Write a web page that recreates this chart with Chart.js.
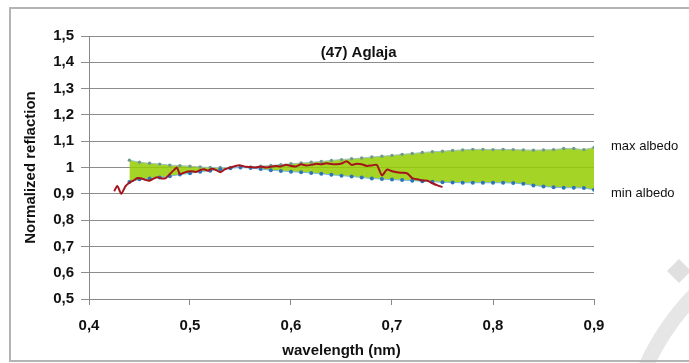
<!DOCTYPE html>
<html>
<head>
<meta charset="utf-8">
<script src="https://cdn.jsdelivr.net/npm/chart.js@4.4.1/dist/chart.umd.min.js"></script>
<style>
  html, body { margin: 0; padding: 0; background: #fff; }
  #wrap { position: relative; width: 689px; height: 363px; }
</style>
</head>
<body>
<div id="wrap"><canvas id="chart" width="689" height="363"></canvas></div>
<script>
/* === Aglaja reflectance chart === */

// albedo envelope, sampled every 0.01 nm from 0.44 to 0.90
var envWavelength = [
  0.44, 0.45, 0.46, 0.47, 0.48, 0.49, 0.50, 0.51, 0.52, 0.53,
  0.54, 0.55, 0.56, 0.57, 0.58, 0.59, 0.60, 0.61, 0.62, 0.63,
  0.64, 0.65, 0.66, 0.67, 0.68, 0.69, 0.70, 0.71, 0.72, 0.73,
  0.74, 0.75, 0.76, 0.77, 0.78, 0.79, 0.80, 0.81, 0.82, 0.83,
  0.84, 0.85, 0.86, 0.87, 0.88, 0.89, 0.90
];
var maxAlbedo = [
  1.028, 1.020, 1.016, 1.013, 1.009, 1.007, 1.005, 1.002, 1.000, 1.000,
  1.000, 1.000, 1.002, 1.005, 1.008, 1.011, 1.014, 1.017, 1.020, 1.023,
  1.027, 1.030, 1.033, 1.036, 1.040, 1.043, 1.046, 1.050, 1.053, 1.057,
  1.060, 1.062, 1.065, 1.067, 1.069, 1.069, 1.068, 1.069, 1.068, 1.067,
  1.066, 1.067, 1.068, 1.072, 1.072, 1.068, 1.076
];
var minAlbedo = [
  0.945, 0.955, 0.958, 0.962, 0.967, 0.973, 0.978, 0.984, 0.988, 0.993,
  0.997, 1.000, 0.998, 0.994, 0.990, 0.987, 0.984, 0.982, 0.979, 0.976,
  0.972, 0.969, 0.966, 0.962, 0.958, 0.956, 0.954, 0.952, 0.950, 0.948,
  0.946, 0.944, 0.943, 0.942, 0.942, 0.942, 0.942, 0.942, 0.941, 0.938,
  0.932, 0.928, 0.925, 0.923, 0.923, 0.922, 0.915
];

// measured spectrum of (47) Aglaja
var specWavelength = [
  0.425, 0.428, 0.432, 0.436, 0.440, 0.444, 0.448, 0.452, 0.456, 0.460,
  0.464, 0.468, 0.472, 0.476, 0.480, 0.484, 0.487, 0.490, 0.494, 0.498,
  0.502, 0.506, 0.510, 0.514, 0.518, 0.522, 0.526, 0.530, 0.534, 0.540,
  0.545, 0.550, 0.555, 0.560, 0.565, 0.570, 0.575, 0.580, 0.585, 0.590,
  0.595, 0.600, 0.605, 0.610, 0.615, 0.620, 0.625, 0.630, 0.635, 0.640,
  0.645, 0.650, 0.655, 0.660, 0.665, 0.670, 0.675, 0.680, 0.685, 0.690,
  0.695, 0.700, 0.705, 0.710, 0.715, 0.720, 0.725, 0.730, 0.735, 0.740,
  0.745, 0.750
];
var specReflect = [
  0.910, 0.930, 0.900, 0.928, 0.942, 0.950, 0.960, 0.958, 0.953, 0.950,
  0.958, 0.963, 0.958, 0.960, 0.975, 0.990, 1.000, 0.975, 0.980, 0.985,
  0.986, 0.983, 0.990, 0.993, 0.988, 0.995, 0.990, 0.982, 0.992, 1.000,
  1.006, 1.008, 1.003, 1.002, 1.000, 1.004, 1.000, 1.003, 1.006, 1.004,
  1.010, 1.006, 1.004, 1.012, 1.008, 1.010, 1.014, 1.012, 1.016, 1.013,
  1.012, 1.015, 1.024, 1.010, 1.014, 1.012, 1.006, 1.008, 1.010, 0.970,
  0.992, 0.986, 0.982, 0.980, 0.978, 0.960, 0.955, 0.951, 0.950, 0.940,
  0.932, 0.926
];

var xTicks = [0.4, 0.5, 0.6, 0.7, 0.8, 0.9];
var chartTitle = '(47) Aglaja';
var seriesLabels = ['max albedo', 'min albedo'];

var fontMain = "'Liberation Sans', Arial, sans-serif";

function toPoints(xs, ys) {
  return xs.map(function (x, i) { return { x: x, y: ys[i] }; });
}

function commaNum(v) {
  var r = Math.round(v * 10) / 10;
  if (r === Math.round(r)) return String(r);
  return r.toFixed(1).replace('.', ',');
}

// frame, watermark, in-plot title and series labels
var decorPlugin = {
  id: 'decor',
  beforeDraw: function (chart) {
    var c = chart.ctx;
    c.save();
    c.fillStyle = '#fff';
    c.fillRect(0, 0, chart.width, chart.height);
    // watermark bits
    c.fillStyle = '#e0e0e0';
    c.beginPath();
    c.moveTo(679, 259); c.lineTo(691, 271); c.lineTo(679, 283); c.lineTo(667, 271);
    c.closePath();
    c.fill();
    c.strokeStyle = '#e6e6e6';
    c.lineWidth = 15;
    c.beginPath();
    c.arc(878, 472, 255, Math.PI * 200 / 180, Math.PI * 226 / 180);
    c.stroke();
    // outer frame
    c.strokeStyle = '#b4b4b4';
    c.lineWidth = 2;
    c.strokeRect(10, 8, 700, 353);
    c.restore();
  },
  afterDraw: function (chart) {
    var c = chart.ctx;
    var xs = chart.scales.x;
    var ys = chart.scales.y;
    c.save();
    c.fillStyle = '#111';
    c.textBaseline = 'middle';
    c.textAlign = 'center';
    c.font = 'bold 15px ' + fontMain;
    c.fillText(chartTitle, xs.getPixelForValue(0.667), ys.getPixelForValue(1.437));
    c.textAlign = 'left';
    c.font = '13px ' + fontMain;
    var lx = chart.chartArea.right + 17;
    c.fillText(seriesLabels[0], lx, ys.getPixelForValue(1.08));
    c.fillText(seriesLabels[1], lx, ys.getPixelForValue(0.9));
    c.restore();
  }
};

new Chart(document.getElementById('chart'), {
  type: 'line',
  data: {
    datasets: [{
      label: seriesLabels[0],
      data: toPoints(envWavelength, maxAlbedo),
      borderColor: '#a3c4b4',
      borderWidth: 1,
      backgroundColor: 'rgba(148, 204, 0, 0.85)',
      fill: '+1',
      pointRadius: 1.7,
      pointBackgroundColor: '#6f9a8c',
      pointBorderColor: '#6f9a8c',
      pointBorderWidth: 0,
      tension: 0,
      order: 2,
    }, {
      label: seriesLabels[1],
      data: toPoints(envWavelength, minAlbedo),
      borderColor: '#7ab8dd',
      borderWidth: 1,
      fill: false,
      pointRadius: 2,
      pointBackgroundColor: '#2f74b5',
      pointBorderColor: '#2f74b5',
      pointBorderWidth: 0,
      tension: 0,
      order: 1,
    }, {
      label: chartTitle,
      data: toPoints(specWavelength, specReflect),
      borderColor: '#a5141c',
      borderWidth: 2,
      fill: false,
      pointRadius: 0,
      tension: 0.2,
      order: 0,
    }],
  },
  options: {
    responsive: false,
    animation: false,
    events: [],
    layout: { padding: { left: 0, right: 95, top: 36, bottom: 0 } },
    plugins: { legend: { display: false }, tooltip: { enabled: false } },
    scales: {
      x: {
        type: 'linear',
        min: 0.4,
        max: 0.9,
        afterBuildTicks: function (s) { s.ticks = xTicks.map(function (v) { return { value: v }; }); },
        afterFit: function (s) { s.height = 64; },
        ticks: {
          color: '#111',
          font: { family: fontMain, size: 15, weight: 'bold' },
          padding: 12,
          maxRotation: 0,
          callback: function (v) { return commaNum(v); },
        },
        grid: { drawOnChartArea: false, color: '#888', tickLength: 6 },
        border: { color: '#888' },
        title: {
          display: true,
          text: 'wavelength (nm)',
          color: '#111',
          font: { family: fontMain, size: 15, weight: 'bold' },
          padding: { top: 0, bottom: 3 },
        },
      },
      y: {
        min: 0.5,
        max: 1.5,
        afterFit: function (s) { s.width = 89; },
        ticks: {
          stepSize: 0.1,
          color: '#111',
          font: { family: fontMain, size: 15, weight: 'bold' },
          padding: 7,
          callback: function (v) { return commaNum(v); },
        },
        grid: { color: '#8c8c8c', tickLength: 8 },
        border: { color: '#888' },
        title: {
          display: true,
          text: 'Normalized reflaction',
          color: '#111',
          font: { family: fontMain, size: 15, weight: 'bold' },
          padding: { top: 22, bottom: 0 },
        },
      },
    },
  },
  plugins: [decorPlugin],
});
</script>
</body>
</html>
